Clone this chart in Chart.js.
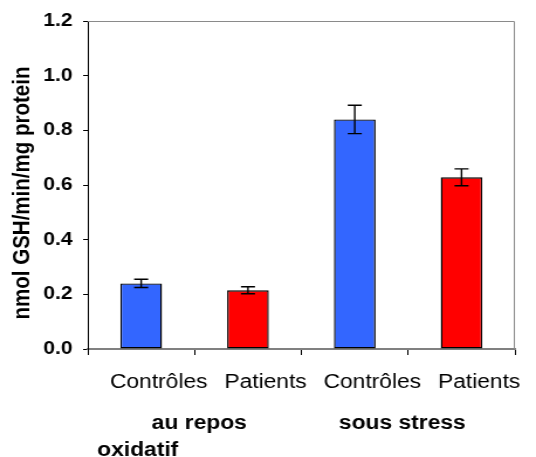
<!DOCTYPE html>
<html>
<head>
<meta charset="utf-8">
<script src="https://cdn.jsdelivr.net/npm/chart.js@4"></script>
<style>
  html, body { margin: 0; padding: 0; background: #fff; overflow: hidden; }
  canvas { display: block; }
</style>
</head>
<body>
<!-- the original picture is stretched sideways, so the canvas is drawn narrower and widened by css -->
<canvas id="myChart" width="458" height="457" style="width:536px;height:457px"></canvas>
<script>
// data
var categories = ['Contrôles', 'Patients', 'Contrôles', 'Patients'];
var values = [0.24, 0.215, 0.84, 0.628];
var errors = [0.015, 0.013, 0.052, 0.031];
var barColors = ['#3366FF', '#FF0000', '#3366FF', '#FF0000'];
var yTicks = [0, 0.2, 0.4, 0.6, 0.8, 1.0, 1.2];
var yTitle = 'nmol GSH/min/mg protein';
var groupLine1 = ['au repos', 'sous stress'];
var groupLine2 = 'oxidatif';

var FONT = "Arial, 'Liberation Sans', sans-serif";

// error bars, frame and custom labels
var extras = {
  id: 'extras',
  afterDatasetsDraw: function (chart) {
    var ctx = chart.ctx;
    var x = chart.scales.x, y = chart.scales.y;
    var area = chart.chartArea;

    // gray frame top/right
    ctx.save();
    ctx.strokeStyle = '#8a8a8a';
    ctx.lineWidth = 1;
    ctx.beginPath();
    ctx.moveTo(area.left, area.top + 0.5);
    ctx.lineTo(area.right - 0.5, area.top + 0.5);
    ctx.lineTo(area.right - 0.5, area.bottom);
    ctx.stroke();
    ctx.restore();

    // error bars
    ctx.save();
    ctx.strokeStyle = '#000';
    ctx.lineWidth = 1.4;
    for (var i = 0; i < values.length; i++) {
      var cx = x.getPixelForValue(i);
      var hi = y.getPixelForValue(values[i] + errors[i]);
      var lo = y.getPixelForValue(values[i] - errors[i]);
      ctx.beginPath();
      ctx.moveTo(cx, hi); ctx.lineTo(cx, lo);
      ctx.moveTo(cx - 6, hi); ctx.lineTo(cx + 6, hi);
      ctx.moveTo(cx - 6, lo); ctx.lineTo(cx + 6, lo);
      ctx.stroke();
    }
    ctx.restore();
  },
  afterDraw: function (chart) {
    var ctx = chart.ctx;
    var x = chart.scales.x;
    var area = chart.chartArea;

    // y title, rotated
    ctx.save();
    ctx.font = 'bold 20.5px ' + FONT;
    ctx.fillStyle = '#000';
    ctx.textAlign = 'center';
    ctx.textBaseline = 'middle';
    ctx.translate(19, (area.top + area.bottom) / 2 + 8);
    ctx.rotate(-Math.PI / 2);
    ctx.fillText(yTitle, 0, 0);
    ctx.restore();

    // group labels under the categories
    var step = x.getPixelForValue(1) - x.getPixelForValue(0);
    ctx.save();
    ctx.font = 'bold 19.5px ' + FONT;
    ctx.fillStyle = '#000';
    ctx.textBaseline = 'alphabetic';
    ctx.textAlign = 'center';
    ctx.fillText(groupLine1[0], x.getPixelForValue(0) + step / 2 + 4, area.bottom + 80);
    ctx.fillText(groupLine1[1], x.getPixelForValue(2) + step / 2 - 5, area.bottom + 80);
    ctx.textAlign = 'left';
    ctx.fillText(groupLine2, area.left + 8, area.bottom + 107);
    ctx.restore();
  }
};

var ctx = document.getElementById('myChart').getContext('2d');
var myChart = new Chart(ctx, {
  type: 'bar',
  data: {
    labels: categories,
    datasets: [{
      data: values,
      backgroundColor: barColors,
      borderColor: '#000',
      borderWidth: 1.4,
      borderSkipped: false,
      categoryPercentage: 1,
      barPercentage: 0.39
    }]
  },
  options: {
    responsive: false,
    animation: false,
    devicePixelRatio: 1,
    layout: { padding: { top: 21, right: 18, left: 0, bottom: 0 } },
    plugins: { legend: { display: false }, tooltip: { enabled: false } },
    scales: {
      x: {
        offset: true,
        grid: { offset: true, drawOnChartArea: false, tickLength: 6, color: '#000', tickWidth: 1 },
        border: { color: '#808080', width: 2 },
        ticks: {
          color: '#000',
          font: { family: FONT, size: 19.5 },
          padding: 16,
          labelOffset: 15,
          maxRotation: 0,
          autoSkip: false
        },
        afterFit: function (scale) { scale.height = 108; }
      },
      y: {
        min: 0,
        max: 1.2,
        afterBuildTicks: function (scale) {
          scale.ticks = yTicks.map(function (v) { return { value: v }; });
        },
        grid: { drawOnChartArea: false, tickLength: 4, color: '#000' },
        border: { color: '#000', width: 1 },
        ticks: {
          color: '#000',
          font: { family: FONT, size: 18, weight: 'bold' },
          padding: 9,
          callback: function (v) { return Number(v).toFixed(1); }
        },
        afterFit: function (scale) { scale.width = 75; }
      }
    }
  },
  plugins: [extras]
});
</script>
</body>
</html>
